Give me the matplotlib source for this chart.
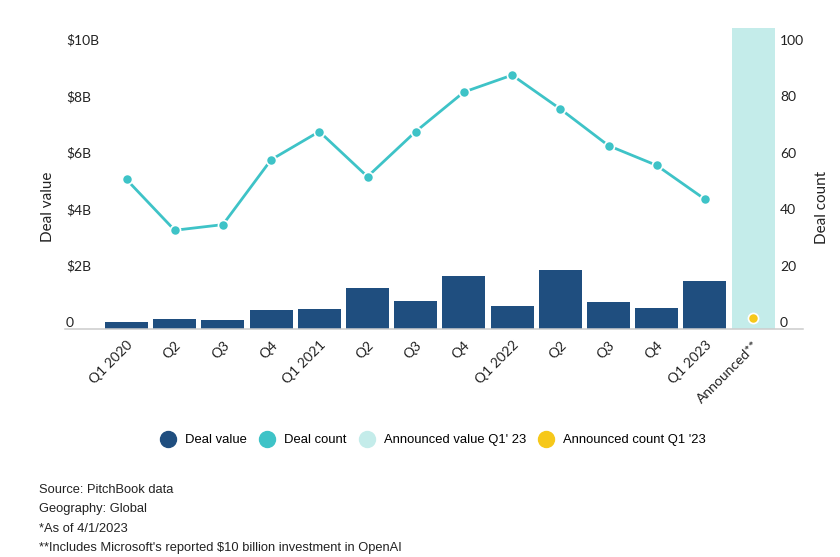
import matplotlib
matplotlib.use("Agg")
import matplotlib.pyplot as plt
from matplotlib.lines import Line2D
import numpy as np

# ---- data ----
categories = ["Q1 2020", "Q2", "Q3", "Q4", "Q1 2021", "Q2", "Q3", "Q4",
              "Q1 2022", "Q2", "Q3", "Q4", "Q1 2023", "Announced**"]
deal_value = [0.25, 0.35, 0.32, 0.67, 0.71, 1.45, 0.99, 1.88, 0.82, 2.09, 0.96, 0.74, 1.70]
deal_count = [53, 35, 37, 60, 70, 54, 70, 84, 90, 78, 65, 58, 46]
announced_value = 10.7
announced_count = 4
value_ticks = [0, 2, 4, 6, 8, 10]
value_tick_labels = ["0", "$2B", "$4B", "$6B", "$8B", "$10B"]
count_ticks = [0, 20, 40, 60, 80, 100]
footnotes = ["Source: PitchBook data", "Geography: Global", "*As of 4/1/2023",
             "**Includes Microsoft's reported $10 billion investment in OpenAI"]

C_BAR = "#1F4E7F"
C_LINE = "#3EC3C7"
C_ANN = "#C4ECEA"
C_YEL = "#F6C81A"
C_TXT = "#222222"

W, H = 840, 557
fig = plt.figure(figsize=(W / 100, H / 100), dpi=100)
left_px, right_px, top_px, bot_px = 102.4, 777.2, 28, 329
ax = fig.add_axes([left_px / W, 1 - bot_px / H, (right_px - left_px) / W, (bot_px - top_px) / H])
ax2 = ax.twinx()

tick_font = "Lato"
x = np.arange(len(categories))
n = len(deal_value)

ax.bar(x[:n], deal_value, width=0.892, color=C_BAR, zorder=2)
ax.bar(x[n], announced_value, width=0.892, color=C_ANN, zorder=1)

ax.set_xlim(-0.5, len(categories) - 0.5)
ax.set_ylim(0, 10.67)
ax2.set_ylim(0, 106.7)

ax2.plot(x[:n], deal_count, color=C_LINE, lw=2, marker="o", ms=7.3,
         mfc=C_LINE, mec="white", mew=1.2, zorder=5)
ax2.plot([x[n]], [announced_count], ls="none", marker="o", ms=7.3,
         mfc=C_YEL, mec="white", mew=1.2, zorder=5)

for a in (ax, ax2):
    for s in a.spines.values():
        s.set_visible(False)

ax.set_yticks(value_ticks)
ax.set_yticklabels(value_tick_labels, fontfamily=tick_font, fontsize=10, color=C_TXT)
ax.tick_params(axis="y", length=0, pad=(left_px - 66) * 0.72)
for lbl in ax.get_yticklabels():
    lbl.set_ha("left")
    lbl.set_va("bottom")

ax2.set_yticks(count_ticks)
ax2.set_yticklabels([str(t) for t in count_ticks], fontfamily=tick_font, fontsize=10, color=C_TXT)
ax2.tick_params(axis="y", length=0, pad=2)
for lbl in ax2.get_yticklabels():
    lbl.set_va("bottom")

ax.set_xticks(x)
ax.set_xticklabels(categories, rotation=45, ha="right", va="top",
                   rotation_mode="anchor", fontfamily=tick_font, fontsize=10, color=C_TXT)
ax.tick_params(axis="x", length=0, pad=7)

# baseline
fig.add_artist(Line2D([65 / W, 803 / W], [1 - bot_px / H] * 2, color="#cccccc", lw=1.1))

# axis titles
fig.text(48 / W, 1 - 207 / H, "Deal value", rotation=90, ha="center", va="center",
         fontfamily=tick_font, fontsize=11, color=C_TXT)
fig.text(822 / W, 1 - 207 / H, "Deal count", rotation=90, ha="center", va="center",
         fontfamily=tick_font, fontsize=11, color=C_TXT)

# legend
handles = [Line2D([], [], ls="none", marker="o", ms=11.5, mfc=c, mec=c)
           for c in (C_BAR, C_LINE, C_ANN, C_YEL)]
labels = ["Deal value", "Deal count", "Announced value Q1' 23", "Announced count Q1 '23"]
fig.legend(handles, labels, loc="center", bbox_to_anchor=(434 / W, 1 - 440 / H), ncol=4,
           frameon=False, handlelength=1.0, handletextpad=0.8, columnspacing=1.05,
           borderpad=0, prop={"family": "Liberation Sans", "size": 9.4})

# footnotes
ys = [490, 509, 529, 548]
for t, yy in zip(footnotes, ys):
    fig.text(39 / W, 1 - yy / H, t, ha="left", va="center",
             fontfamily="Liberation Sans", fontsize=9.3, color=C_TXT)

fig.savefig("out.png", dpi=100)
